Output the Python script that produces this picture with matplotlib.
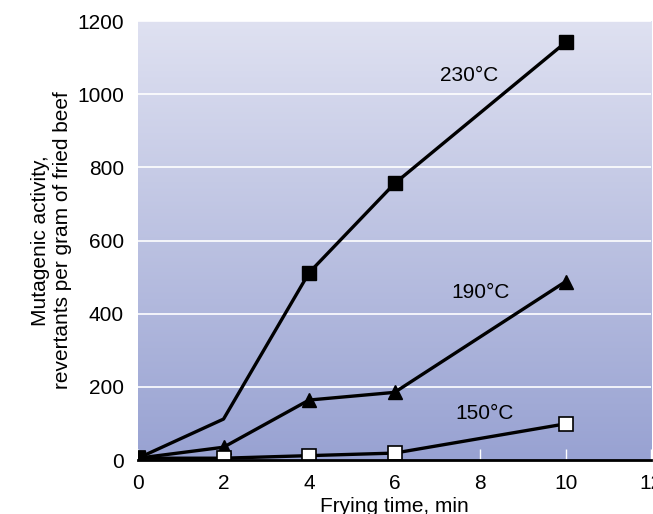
import numpy as np
import matplotlib.pyplot as plt
from matplotlib.colors import LinearSegmentedColormap

plt.rcParams['font.family'] = ['Liberation Sans', 'DejaVu Sans']

# data
time = [0, 2, 4, 6, 10]
t230 = [5, 112, 512, 756, 1142]
t190 = [5, 35, 164, 185, 488]
t150 = [5, 5, 12, 19, 99]
xticks = [0, 2, 4, 6, 8, 10, 12]
yticks = [0, 200, 400, 600, 800, 1000, 1200]

fig = plt.figure(figsize=(6.53, 5.14), dpi=100)
ax = fig.add_axes([0.2113, 0.105, 0.786, 0.854])

# gradient background, darker at the bottom
cmap = LinearSegmentedColormap.from_list('bg', ['#98a2d2', '#dfe1f1'])
grad = np.linspace(0, 1, 256).reshape(-1, 1)
ax.imshow(grad, cmap=cmap, aspect='auto', origin='lower',
          extent=[0, 12, 0, 1200], zorder=0)

for y in yticks[1:]:
    ax.axhline(y, color='white', lw=1.2, zorder=1)

lw = 2.4
ax.plot(time, t230, color='black', lw=lw, zorder=3)
ax.plot([time[i] for i in (0, 2, 3, 4)], [t230[i] for i in (0, 2, 3, 4)],
        ls='none', marker='s', ms=10, color='black', zorder=4)
ax.plot(time, t190, color='black', lw=lw, marker='^', ms=10, zorder=3)
ax.plot(time, t150, color='black', lw=lw, marker='s', ms=10,
        mfc='white', mec='black', mew=1.2, zorder=3)

fs = 15
ax.text(7.75, 1052, '230°C', fontsize=fs, ha='center', va='center')
ax.text(8.0, 458, '190°C', fontsize=fs, ha='center', va='center')
ax.text(8.1, 127, '150°C', fontsize=fs, ha='center', va='center')

ax.set_xlim(0, 12)
ax.set_ylim(0, 1200)
ax.set_xticks(xticks)
ax.set_yticks(yticks)
ax.tick_params(axis='y', length=0, labelsize=fs, pad=10)
ax.tick_params(axis='x', direction='in', length=8, width=1, color='white',
               labelsize=fs, pad=10)
for s in ['top', 'right', 'left']:
    ax.spines[s].set_visible(False)
ax.spines['bottom'].set_linewidth(2)
ax.spines['bottom'].set_zorder(5)

ax.set_xlabel('Frying time, min', fontsize=fs, labelpad=3)
ax.set_ylabel('Mutagenic activity,\nrevertants per gram of fried beef',
              fontsize=fs, labelpad=4)

fig.savefig('out.png', dpi=100)
